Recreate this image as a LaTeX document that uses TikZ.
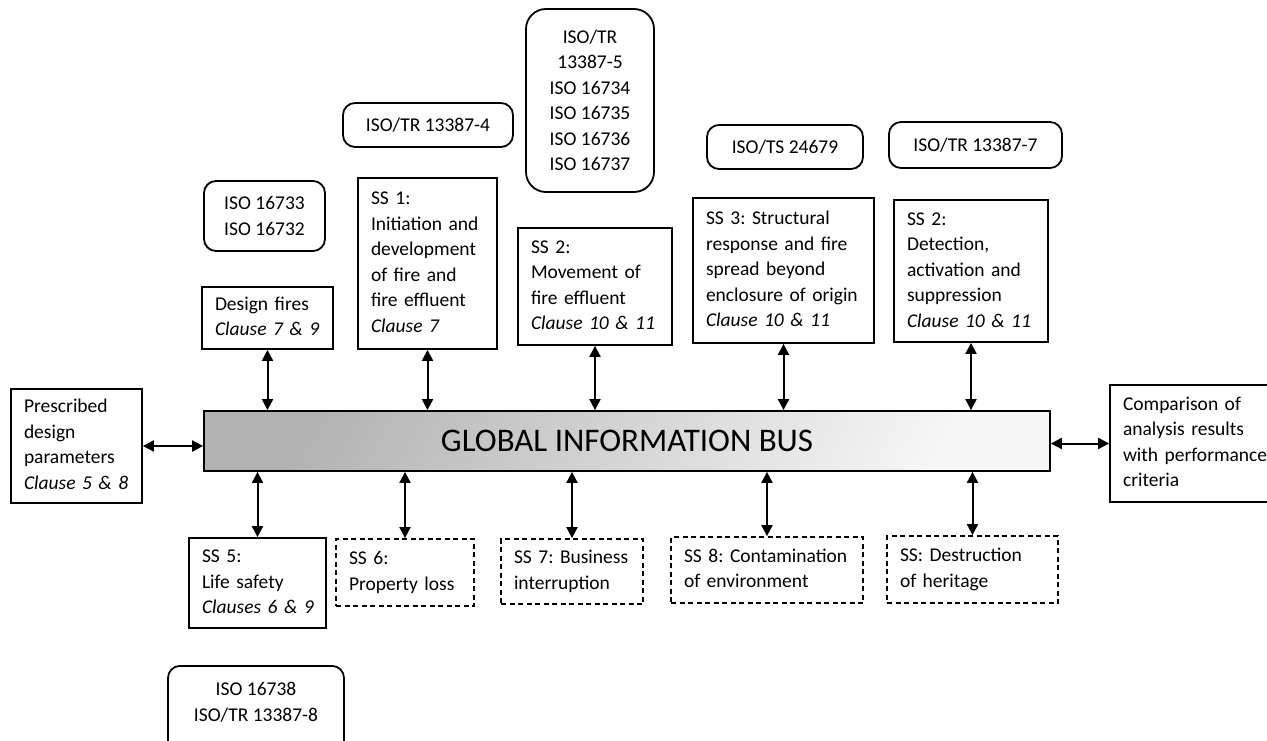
\documentclass[tikz,border=0pt]{standalone}
\usepackage{fontspec}
\setmainfont{Carlito}
\usetikzlibrary{arrows.meta}
\newcommand\boxlines[1]{\begin{tabular}{@{}l@{}}#1\end{tabular}}
\begin{document}
\begin{tikzpicture}[x=1pt,y=-1pt,
  every node/.style={font=\fontsize{19.5}{25.5}\selectfont\frenchspacing},
  sbox/.style={draw, line width=1.8pt, rectangle, align=left, inner xsep=13pt, inner ysep=0pt},
  dbox/.style={sbox, dash pattern=on 5pt off 3.5pt},
  isobox/.style={draw, line width=1.8pt, rounded corners=12pt, align=center, inner sep=0pt},
  biarrow/.style={line width=2pt, {Triangle[length=11pt,width=11pt]}-{Triangle[length=11pt,width=11pt]}},
]
\useasboundingbox (0,0) rectangle (1267,741);
\fill[white] (0,0) rectangle (1267,741);
\clip (0,0) rectangle (1267,741);

% bus
\node[draw, line width=1.8pt, shading=axis, top color=black!30, bottom color=black!3, shading angle=62,
      minimum width=846pt, minimum height=60pt, inner sep=0pt,
      font=\fontsize{33}{38}\selectfont] (bus) at (627,441) {GLOBAL INFORMATION BUS};

% standards boxes
\node[isobox, minimum width=121pt, minimum height=70pt] (iso33) at (264.5,216) {ISO 16733\\ISO 16732};
\node[isobox, minimum width=170pt, minimum height=44pt] (iso4) at (428,125) {ISO/TR 13387-4};
\node[isobox, rounded corners=20pt, minimum width=128pt, minimum height=183pt] (iso5) at (590,100.5)
  {ISO/TR\\13387-5\\ISO 16734\\ISO 16735\\ISO 16736\\ISO 16737};
\node[isobox, minimum width=156pt, minimum height=44pt] (iso24679) at (785,147) {ISO/TS 24679};
\node[isobox, minimum width=173pt, minimum height=46pt] (iso7) at (975.5,145) {ISO/TR 13387-7};
\node[isobox, minimum width=176pt, minimum height=90pt, anchor=north] (iso38) at (256,665) {};
\node[align=center, inner sep=0pt] (iso38t) at (256,702) {ISO 16738\\ISO/TR 13387-8};

% upper subsystems
\node[sbox, text width=105pt, minimum height=62pt] (df) at (267.5,318)
  {\boxlines{Design fires\\\textit{Clause 7 \& 9}}};
\node[sbox, text width=113pt, minimum height=171pt] (ss1) at (427.5,263.5)
  {\boxlines{SS 1:\\Initiation and\\development\\of fire and\\fire effluent\\\textit{Clause 7}}};
\node[sbox, text width=128pt, minimum height=117pt] (ss2m) at (595,286.5)
  {\boxlines{SS 2:\\Movement of\\fire effluent\\\textit{Clause 10 \& 11}}};
\node[sbox, text width=155pt, minimum height=145pt] (ss3) at (783.5,270.5)
  {\boxlines{SS 3: Structural\\response and fire\\spread beyond\\enclosure of origin\\\textit{Clause 10 \& 11}}};
\node[sbox, text width=128pt, minimum height=142pt] (ss2d) at (971,271)
  {\boxlines{SS 2:\\Detection,\\activation and\\suppression\\\textit{Clause 10 \& 11}}};

% side boxes
\node[sbox, text width=105pt, minimum height=114pt] (pd) at (76.5,446)
  {\boxlines{Prescribed\\design\\parameters\\\textit{Clause 5 \& 8}}};
\node[sbox, text width=154pt, minimum height=117pt] (cmp) at (1200,443.5)
  {\boxlines{Comparison of\\analysis results\\with performance\\criteria}};

% lower subsystems
\node[sbox, text width=111pt, minimum height=90pt] (ss5) at (257.5,583)
  {\boxlines{SS 5:\\Life safety\\\textit{Clauses 6 \& 9}}};
\node[dbox, text width=112pt, minimum height=67pt] (ss6) at (405,572.5)
  {\boxlines{SS 6:\\Property loss}};
\node[dbox, text width=116pt, minimum height=65pt] (ss7) at (572,571.5)
  {\boxlines{SS 7: Business\\interruption}};
\node[dbox, text width=166pt, minimum height=66pt] (ss8) at (767,570)
  {\boxlines{SS 8: Contamination\\of environment}};
\node[dbox, text width=145pt, minimum height=67pt] (ssh) at (972.5,569.5)
  {\boxlines{SS: Destruction\\of heritage}};

% connectors
\foreach \n in {df,ss1,ss2m,ss3,ss2d}
  \draw[biarrow] (\n.south) -- (\n.south |- bus.north);
\foreach \n in {ss5,ss6,ss7,ss8,ssh}
  \draw[biarrow] (\n.north) -- (\n.north |- bus.south);
\draw[biarrow] (pd.east) -- (pd.east -| bus.west);
\draw[biarrow] (cmp.west) -- (cmp.west -| bus.east);
\end{tikzpicture}
\end{document}
